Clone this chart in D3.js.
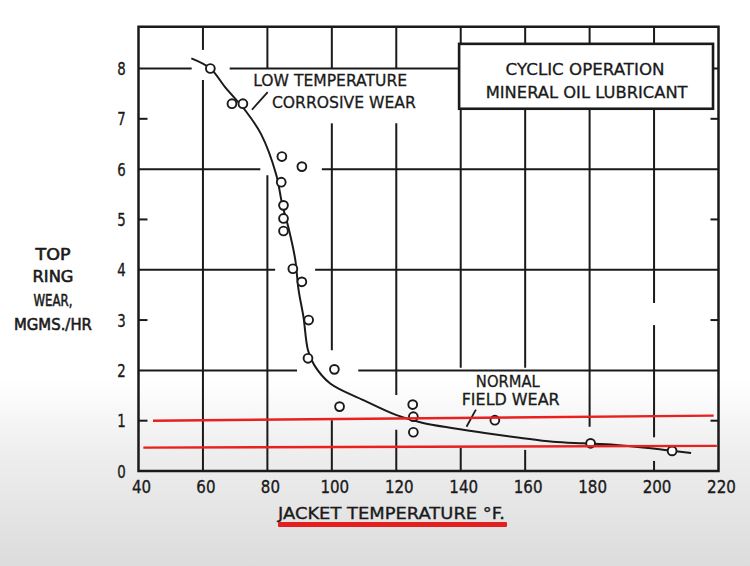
<!DOCTYPE html>
<html><head><meta charset="utf-8">
<script src="https://cdn.jsdelivr.net/npm/d3@7"></script>
<style>html,body{margin:0;padding:0;background:#fff;}svg{display:block;}</style>
</head><body>
<svg id="chart" width="750" height="566"></svg>
<script>
// ---- data ----
const xTicks = [40, 60, 80, 100, 120, 140, 160, 180, 200, 220];
const yTicks = [0, 1, 2, 3, 4, 5, 6, 7, 8];
const pointTemp = [62.3, 69.0, 72.4, 84.5, 90.7, 84.3, 85.0, 85.0, 85.0, 87.9, 90.7, 92.8, 92.6, 100.8, 102.4, 125.1, 125.3, 125.3, 150.6, 180.3, 205.6];
const pointWear = [8.0, 7.3, 7.3, 6.25, 6.05, 5.74, 5.28, 5.02, 4.77, 4.02, 3.76, 3.0, 2.24, 2.02, 1.28, 1.32, 1.08, 0.77, 1.01, 0.55, 0.40];
const curveTemp = [56.4, 62.3, 67, 73.1, 78, 82.7, 84.6, 86.6, 88.6, 89.7, 91.2, 92.6, 94.6, 99.5, 109.8, 120.1, 128, 137.7, 148, 158.3, 168.6, 177.9, 185.2, 201.7, 205.6, 211.5];
const curveWear = [8.2, 8.0, 7.62, 7.17, 6.7, 5.9, 5.3, 4.82, 4.22, 3.59, 3.06, 2.40, 2.10, 1.74, 1.41, 1.11, 0.96, 0.85, 0.75, 0.66, 0.58, 0.55, 0.53, 0.43, 0.40, 0.36];
// hand-drawn grid segments (value, from, to) in data units
const hGrid = [[8, 40, 56.5], [8, 68.3, 220], [6, 40, 77.8], [6, 96.9, 220], [4, 40, 82.4], [4, 94.8, 220], [2, 40, 89.2], [2, 108.2, 220]];
const vGrid = [[60, 0, 7.77], [60, 8.37, 8.83], [80, 0, 5.88], [80, 8.0, 8.83], [100, 0, 1.01], [100, 2.4, 6.91], [100, 8.0, 8.83],
  [120, 0, 0.82], [120, 1.51, 6.91], [120, 8.0, 8.83], [140, 0, 0.46], [140, 2.05, 8.83], [160, 0, 0.42], [160, 2.05, 8.83],
  [180, 0.88, 8.83], [200, 0, 0.2], [200, 0.67, 2.9], [200, 3.34, 8.83]];
const minorTicks = [1, 3, 5, 7];
const yTitle = ["TOP", "RING", "WEAR,", "MGMS./HR"];
const xTitle = "JACKET TEMPERATURE °F.";
const boxLines = ["CYCLIC  OPERATION", "MINERAL OIL  LUBRICANT"];
const redLines = [[[44.5, 1.0], [218.5, 1.1]], [[41.5, 0.465], [219.5, 0.50]]];

// ---- scales ----
const svg = d3.select("#chart");
const x = d3.scaleLinear().domain([40, 220]).range([138.5, 718.5]);
const y = d3.scaleLinear().domain([0, 8]).range([471, 68.5]);
const yTop = 8.83;
const ink = "#1a1a1a";
const font = "'DejaVu Sans', sans-serif";

// helper: text squeezed horizontally to a target width, anchored at (px,py)
function fitText(parent, str, px, py, width, anchor) {
  const gg = parent.append("g");
  const t = gg.append("text").attr("x", 0).attr("y", 0).text(str);
  const w = t.node().getComputedTextLength();
  const s = width / w;
  const dx = anchor === "middle" ? -width / 2 : 0;
  gg.attr("transform", `translate(${px + dx},${py}) scale(${s},1)`);
  return gg;
}

// background gradient
const defs = svg.append("defs");
const g1 = defs.append("linearGradient").attr("id", "bg").attr("x1", 0).attr("y1", 0).attr("x2", 0).attr("y2", 1);
g1.append("stop").attr("offset", "0.67").attr("stop-color", "#ffffff");
g1.append("stop").attr("offset", "0.8").attr("stop-color", "#eeeeee");
g1.append("stop").attr("offset", "1").attr("stop-color", "#dcdcdc");
svg.append("rect").attr("width", 750).attr("height", 566).attr("fill", "url(#bg)");

// grid
svg.append("g").selectAll("line").data(hGrid).join("line")
  .attr("x1", d => x(d[1])).attr("x2", d => x(d[2])).attr("y1", d => y(d[0])).attr("y2", d => y(d[0]))
  .attr("stroke", ink).attr("stroke-width", 2);
svg.append("g").selectAll("line").data(vGrid).join("line")
  .attr("x1", d => x(d[0])).attr("x2", d => x(d[0])).attr("y1", d => y(d[1])).attr("y2", d => y(d[2]))
  .attr("stroke", ink).attr("stroke-width", 2);
// minor ticks on left and right
svg.append("g").selectAll("line").data(minorTicks).join("line")
  .attr("x1", x(40)).attr("x2", x(40) + 9).attr("y1", d => y(d)).attr("y2", d => y(d))
  .attr("stroke", ink).attr("stroke-width", 2);
svg.append("g").selectAll("line").data(minorTicks).join("line")
  .attr("x1", x(220)).attr("x2", x(220) - 8).attr("y1", d => y(d)).attr("y2", d => y(d))
  .attr("stroke", ink).attr("stroke-width", 2);
// frame
svg.append("rect").attr("x", x(40)).attr("y", y(yTop)).attr("width", x(220) - x(40)).attr("height", y(0) - y(yTop))
  .attr("fill", "none").attr("stroke", ink).attr("stroke-width", 2.5);

// legend box
svg.append("rect").attr("x", x(139.5)).attr("y", y(8.49)).attr("width", x(218.3) - x(139.5)).attr("height", y(7.2) - y(8.49))
  .attr("fill", "#fff").attr("stroke", ink).attr("stroke-width", 2.6);
const boxText = svg.append("g").attr("font-family", font).attr("font-size", 15).attr("fill", ink)
  .attr("stroke", ink).attr("stroke-width", 0.3);
fitText(boxText, boxLines[0], x(178.6), y(7.87), 159, "middle");
fitText(boxText, boxLines[1], x(179.1), y(7.42), 202, "middle");

// curve
const pts = curveTemp.map((t, i) => [t, curveWear[i]]);
svg.append("path").datum(pts)
  .attr("d", d3.line().x(d => x(d[0])).y(d => y(d[1])).curve(d3.curveCatmullRom.alpha(0.5)))
  .attr("fill", "none").attr("stroke", ink).attr("stroke-width", 2);

// points
svg.append("g").selectAll("circle").data(pointTemp.map((t, i) => [t, pointWear[i]])).join("circle")
  .attr("cx", d => x(d[0])).attr("cy", d => y(d[1])).attr("r", 4.4)
  .attr("fill", "#fff").attr("stroke", ink).attr("stroke-width", 1.9);

// annotations
const ann = svg.append("g").attr("font-family", font).attr("font-size", 16).attr("fill", ink)
  .attr("stroke", ink).attr("stroke-width", 0.3);
fitText(ann, "LOW TEMPERATURE", x(75.6), y(7.65), 154);
fitText(ann, "CORROSIVE  WEAR", x(81.4), y(7.22), 144);
fitText(ann, "NORMAL", x(144.7), y(1.67), 64);
fitText(ann, "FIELD WEAR", x(140.3), y(1.31), 98);
const leaders = [[[75.2, 7.18], [80.1, 7.53]], [[141.8, 0.88], [144.7, 1.22]]];
svg.append("g").selectAll("line").data(leaders).join("line")
  .attr("x1", d => x(d[0][0])).attr("y1", d => y(d[0][1])).attr("x2", d => x(d[1][0])).attr("y2", d => y(d[1][1]))
  .attr("stroke", ink).attr("stroke-width", 1.8);

// tick labels
const tl = svg.append("g").attr("font-family", font).attr("font-size", 17.5).attr("fill", ink)
  .attr("stroke", ink).attr("stroke-width", 0.35);
xTicks.forEach(d => fitText(tl, String(d), x(d) + 3, 493, String(d).length * 9.6, "middle"));
yTicks.forEach(d => fitText(tl, String(d), 121.5, y(d) + 6.5, 8.5, "middle"));

// axis titles
const yt = svg.append("g").attr("font-family", font).attr("font-size", 16).attr("fill", ink)
  .attr("stroke", ink).attr("stroke-width", 0.6);
const yWidths = [35, 41, 39, 78];
const yBase = [260, 282, 306, 330];
yTitle.forEach((s, i) => fitText(yt, s, 53, yBase[i], yWidths[i], "middle"));
const xtG = svg.append("g").attr("font-family", font).attr("font-size", 16).attr("fill", ink)
  .attr("stroke", ink).attr("stroke-width", 0.35);
fitText(xtG, xTitle, 391.5, 519, 227, "middle");

// red annotations
svg.append("g").selectAll("line").data(redLines).join("line")
  .attr("x1", d => x(d[0][0])).attr("y1", d => y(d[0][1])).attr("x2", d => x(d[1][0])).attr("y2", d => y(d[1][1]))
  .attr("stroke", "#e8201e").attr("stroke-width", 2.4);
svg.append("rect").attr("x", 278).attr("y", 522).attr("width", 229).attr("height", 5)
  .attr("fill", "#e41f1f").attr("rx", 1);
</script>
</body></html>
